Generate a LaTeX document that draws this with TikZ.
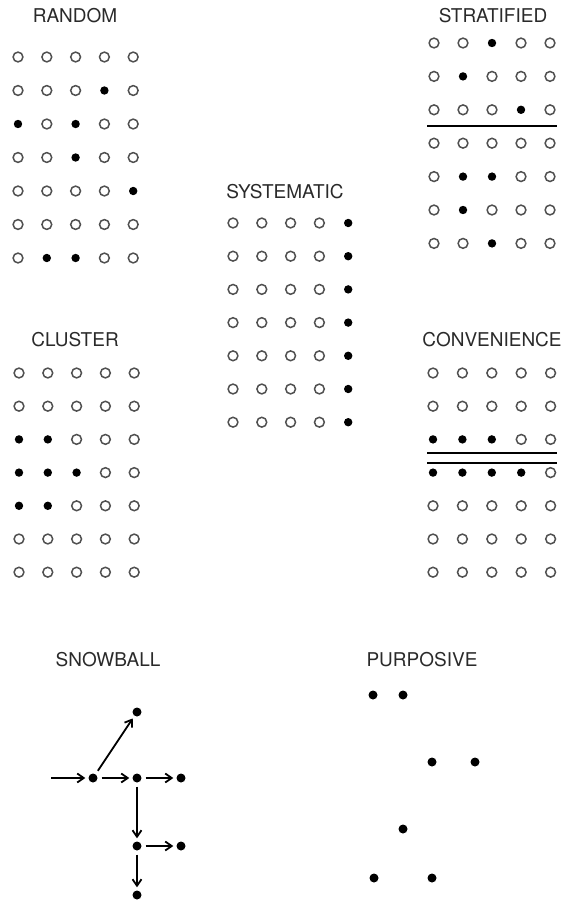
\documentclass[tikz,border=0pt]{standalone}
\usepackage{fontspec}
\setmainfont{TeX Gyre Heros}
\usetikzlibrary{arrows.meta}
\definecolor{ringgray}{HTML}{505050}
\definecolor{textgray}{HTML}{2a2a2a}
\tikzset{
  doto/.style={circle, draw=ringgray, line width=1.5pt, fill=white, inner sep=0pt, minimum size=9.8pt},
  dotx/.style={circle, fill=black, draw=none, inner sep=0pt, minimum size=8.4pt},
  bigdot/.style={circle, fill=black, draw=none, inner sep=0pt, minimum size=9pt},
  title/.style={font=\fontsize{19}{21}\selectfont, text=textgray, inner sep=0pt},
  divider/.style={line width=2.2pt, black},
  snow/.style={-{Straight Barb[length=6.5pt,width=9pt,line width=1.8pt]}, line width=1.8pt, shorten >=3pt, shorten <=4pt}
}
\begin{document}
\begin{tikzpicture}[x=1pt,y=-1pt]
\useasboundingbox (0,0) rectangle (565,901);

% ---------- RANDOM ----------
\node[title] (tRandom) at (75,16) {RANDOM};
\foreach \r/\cells in {1/{o,o,o,o,o},2/{o,o,o,x,o},3/{x,o,x,o,o},4/{o,o,x,o,o},5/{o,o,o,o,x},6/{o,o,o,o,o},7/{o,x,x,o,o}}{
  \foreach \t [count=\c] in \cells {
    \node[dot\t] (rnd-\r-\c) at ({18+(\c-1)*28.8},{57+(\r-1)*33.5}) {};
  }
}

% ---------- STRATIFIED ----------
\node[title] (tStrat) at (493,16) {STRATIFIED};
\foreach \r/\cells in {1/{o,o,x,o,o},2/{o,x,o,o,o},3/{o,o,o,x,o},4/{o,o,o,o,o},5/{o,x,x,o,o},6/{o,x,o,o,o},7/{o,o,x,o,o}}{
  \foreach \t [count=\c] in \cells {
    \node[dot\t] (str-\r-\c) at ({434+(\c-1)*29},{43+(\r-1)*33.4}) {};
  }
}
\coordinate (sL) at (427,126);
\coordinate (sR) at (557,126);
\draw[divider] (sL) -- (sR);

% ---------- SYSTEMATIC ----------
\node[title] (tSys) at (285,192) {SYSTEMATIC};
\foreach \r in {1,...,7}{
  \foreach \t [count=\c] in {o,o,o,o,x} {
    \node[dot\t] (sys-\r-\c) at ({233+(\c-1)*28.8},{223+(\r-1)*33.2}) {};
  }
}

% ---------- CLUSTER ----------
\node[title] (tClu) at (75,340) {CLUSTER};
\foreach \r/\cells in {1/{o,o,o,o,o},2/{o,o,o,o,o},3/{x,x,o,o,o},4/{x,x,x,o,o},5/{x,x,o,o,o},6/{o,o,o,o,o},7/{o,o,o,o,o}}{
  \foreach \t [count=\c] in \cells {
    \node[dot\t] (clu-\r-\c) at ({19+(\c-1)*28.8},{373+(\r-1)*33.2}) {};
  }
}

% ---------- CONVENIENCE ----------
\node[title] (tCon) at (492,340) {CONVENIENCE};
\foreach \r/\cells in {1/{o,o,o,o,o},2/{o,o,o,o,o},3/{x,x,x,o,o},4/{x,x,x,x,o},5/{o,o,o,o,o},6/{o,o,o,o,o},7/{o,o,o,o,o}}{
  \foreach \t [count=\c] in \cells {
    \node[dot\t] (con-\r-\c) at ({433+(\c-1)*29.4},{373+(\r-1)*33.2}) {};
  }
}
\coordinate (cL1) at (427,453);
\coordinate (cR1) at (557,453);
\coordinate (cL2) at (427,463);
\coordinate (cR2) at (557,463);
\draw[divider] (cL1) -- (cR1);
\draw[divider] (cL2) -- (cR2);

% ---------- SNOWBALL ----------
\node[title] (tSnow) at (108,660) {SNOWBALL};
\coordinate (s0) at (51,778);
\node[bigdot] (s1) at (93,778) {};
\node[bigdot] (s2) at (137,712) {};
\node[bigdot] (s3) at (137,778) {};
\node[bigdot] (s4) at (181,778) {};
\node[bigdot] (s5) at (137,846) {};
\node[bigdot] (s6) at (181,846) {};
\node[bigdot] (s7) at (137,895) {};
\draw[snow, shorten <=0pt] (s0) -- (s1);
\draw[snow] (s1) -- (s2);
\draw[snow] (s1) -- (s3);
\draw[snow] (s3) -- (s4);
\draw[snow] (s3) -- (s5);
\draw[snow] (s5) -- (s6);
\draw[snow] (s5) -- (s7);

% ---------- PURPOSIVE ----------
\node[title] (tPur) at (422,660) {PURPOSIVE};
\node[bigdot] (p1) at (373,695) {};
\node[bigdot] (p2) at (403,695) {};
\node[bigdot] (p3) at (432,762) {};
\node[bigdot] (p4) at (475,762) {};
\node[bigdot] (p5) at (403,829) {};
\node[bigdot] (p6) at (374,878) {};
\node[bigdot] (p7) at (432,878) {};
\end{tikzpicture}
\end{document}
